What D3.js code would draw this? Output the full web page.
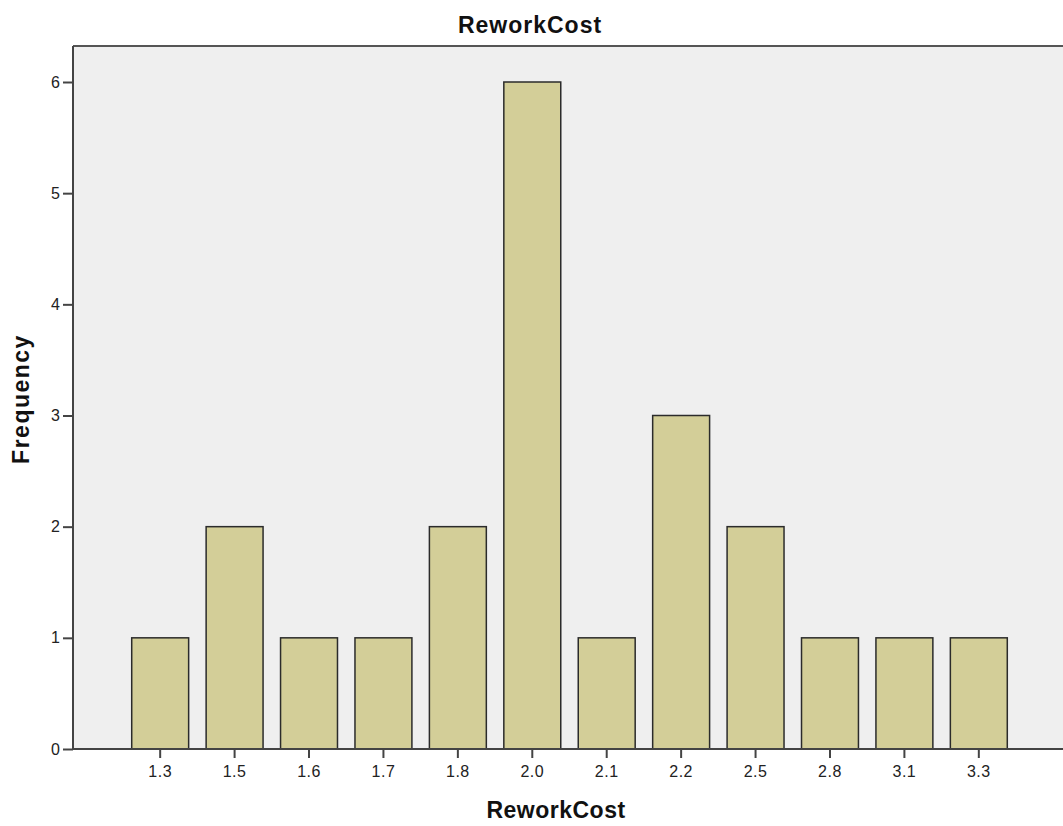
<!DOCTYPE html>
<html>
<head>
<meta charset="utf-8">
<script src="https://cdn.jsdelivr.net/npm/d3@7"></script>
<style>
  html, body { margin: 0; padding: 0; background: #ffffff; }
  svg { display: block; font-family: "Liberation Sans", Arial, sans-serif; }
</style>
</head>
<body>
<svg id="chart" width="1063" height="826"></svg>
<script>
const categories = ["1.3", "1.5", "1.6", "1.7", "1.8", "2.0", "2.1", "2.2", "2.5", "2.8", "3.1", "3.3"];
const frequencies = [1, 2, 1, 1, 2, 6, 1, 3, 2, 1, 1, 1];
const yTicks = [0, 1, 2, 3, 4, 5, 6];
const chartTitle = "ReworkCost";
const xTitle = "ReworkCost";
const yTitle = "Frequency";

const svg = d3.select("#chart");
const plot = { left: 73, top: 46, right: 1070, bottom: 749 };

const x = d3.scaleBand()
  .domain(categories)
  .range([123, 1016])
  .paddingInner(0.235)
  .paddingOuter(0.117);

const y = d3.scaleLinear()
  .domain([0, 6])
  .range([plot.bottom, 82]);

// plot background
svg.append("rect")
  .attr("x", plot.left).attr("y", plot.top)
  .attr("width", plot.right - plot.left).attr("height", plot.bottom - plot.top)
  .attr("fill", "#efefef");

// top border
svg.append("line")
  .attr("x1", plot.left).attr("x2", plot.right)
  .attr("y1", plot.top).attr("y2", plot.top)
  .attr("stroke", "#555").attr("stroke-width", 2);

// bars
svg.append("g").selectAll("rect")
  .data(categories.map((c, i) => ({ c, v: frequencies[i] })))
  .join("rect")
  .attr("x", d => x(d.c))
  .attr("y", d => y(d.v))
  .attr("width", x.bandwidth())
  .attr("height", d => y(0) - y(d.v))
  .attr("fill", "#d3ce98")
  .attr("stroke", "#2b2b2b")
  .attr("stroke-width", 1.5);

// y axis
const yAxis = svg.append("g")
  .attr("transform", `translate(${plot.left},0)`)
  .call(d3.axisLeft(y).tickValues(yTicks).tickFormat(d3.format("d")).tickSize(10).tickPadding(3).tickSizeOuter(0));
yAxis.select(".domain").attr("stroke", "#444").attr("stroke-width", 2)
  .attr("d", `M0,${plot.top}V${plot.bottom}`);
yAxis.selectAll(".tick line").attr("stroke", "#444").attr("stroke-width", 2);
yAxis.selectAll(".tick text").attr("font-size", 16).attr("fill", "#222")
  .attr("font-family", "'Liberation Sans', Arial, sans-serif");

// x axis
const xAxis = svg.append("g")
  .attr("transform", `translate(0,${plot.bottom})`)
  .call(d3.axisBottom(x).tickSize(9).tickPadding(8).tickSizeOuter(0));
xAxis.select(".domain").attr("stroke", "#444").attr("stroke-width", 2)
  .attr("d", `M${plot.left},0H${plot.right}`);
xAxis.selectAll(".tick line").attr("stroke", "#444").attr("stroke-width", 2);
xAxis.selectAll(".tick text").attr("font-size", 16).attr("fill", "#222")
  .attr("letter-spacing", 0.5)
  .attr("font-family", "'Liberation Sans', Arial, sans-serif");

// titles
svg.append("text")
  .attr("x", 530).attr("y", 33)
  .attr("text-anchor", "middle")
  .attr("font-size", 23).attr("font-weight", "bold").attr("fill", "#111")
  .attr("letter-spacing", 1)
  .text(chartTitle);

svg.append("text")
  .attr("x", 556).attr("y", 818)
  .attr("text-anchor", "middle")
  .attr("font-size", 23).attr("font-weight", "bold").attr("fill", "#111")
  .attr("letter-spacing", 0.5)
  .text(xTitle);

svg.append("text")
  .attr("transform", "translate(29,399) rotate(-90)")
  .attr("text-anchor", "middle")
  .attr("font-size", 23).attr("font-weight", "bold").attr("fill", "#111")
  .attr("letter-spacing", 1.5)
  .text(yTitle);
</script>
</body>
</html>
